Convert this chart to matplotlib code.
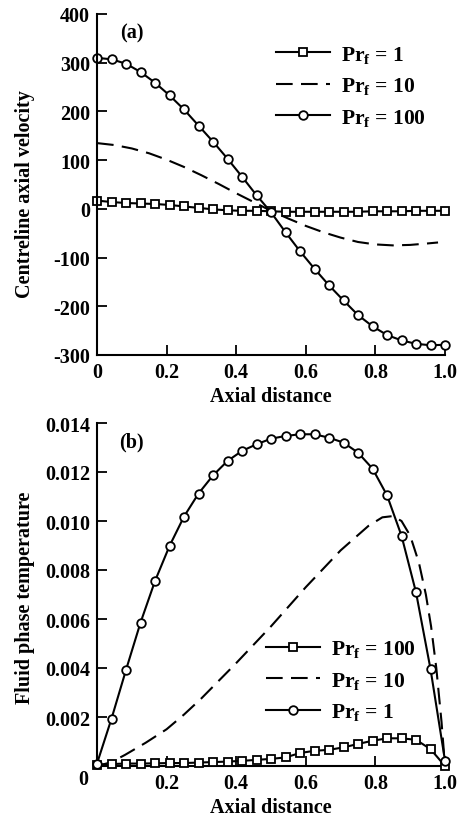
import numpy as np
import matplotlib
matplotlib.use("Agg")
import matplotlib.pyplot as plt

plt.rcParams['font.family'] = ['Liberation Serif', 'DejaVu Serif']
plt.rcParams['font.weight'] = 'bold'
plt.rcParams['axes.labelweight'] = 'bold'
plt.rcParams['axes.unicode_minus'] = False
plt.rcParams['mathtext.fontset'] = 'custom'
plt.rcParams['mathtext.rm'] = 'Liberation Serif:bold'
plt.rcParams['mathtext.it'] = 'Liberation Serif:bold'
plt.rcParams['mathtext.bf'] = 'Liberation Serif:bold'

# ---------------- data: panel (a) ----------------
a_x_markers = [k / 24 for k in range(25)]
a_pr1 = [17, 14, 12, 11, 10, 8, 5, 2, -1, -3, -4, -4, -5, -6, -6, -6,
         -6, -6, -6, -5, -5, -5, -4, -4, -4]
a_pr100 = [310, 307, 298, 281, 259, 233, 204, 171, 138, 103, 66, 28, -7,
           -48, -87, -123, -157, -188, -218, -241, -259, -270, -277, -280, -279]
a_pr10_x = [0, 0.05, 0.1, 0.15, 0.2, 0.25, 0.3, 0.35, 0.4, 0.45, 0.5, 0.55,
            0.6, 0.65, 0.7, 0.75, 0.8, 0.85, 0.9, 0.95, 0.98]
a_pr10 = [135, 131, 124, 114, 101, 86, 69, 51, 32, 14, -4, -20, -35, -48,
          -59, -68, -73, -75, -74, -71, -69]
a_xticks = [0, 0.2, 0.4, 0.6, 0.8, 1.0]
a_xticklabels = ['0', '0.2', '0.4', '0.6', '0.8', '1.0']
a_yticks = [-300, -200, -100, 0, 100, 200, 300, 400]
a_yticklabels = ['-300', '-200', '-100', '0', '100', '200', '300', '400']

# ---------------- data: panel (b) ----------------
b_x_markers = [k / 24 for k in range(25)]
b_pr1 = [0.0001, 0.00193, 0.00392, 0.00585, 0.00755, 0.00898, 0.01018, 0.01112,
         0.01186, 0.01245, 0.01286, 0.01313, 0.01336, 0.01347, 0.01354, 0.01354,
         0.01340, 0.01320, 0.01279, 0.01214, 0.01105, 0.0094, 0.00709, 0.00396,
         0.00022]
b_pr100 = [0.00005, 0.00008, 0.0001, 0.0001, 0.00011, 0.00012, 0.00012, 0.00014,
           0.00016, 0.00018, 0.00021, 0.00025, 0.00029, 0.00035, 0.00053, 0.00062,
           0.00066, 0.00076, 0.00090, 0.00103, 0.00113, 0.00113, 0.00107, 0.00069,
           0.0]
b_pr10_x = [0, 0.04, 0.08, 0.14, 0.2, 0.25, 0.3, 0.4, 0.5, 0.6, 0.7, 0.78, 0.82,
            0.85, 0.875, 0.9, 0.925, 0.945, 0.96, 0.975, 0.99, 1.0]
b_pr10 = [0, 0.00015, 0.00045, 0.00095, 0.0015, 0.0021, 0.00276, 0.0042, 0.0057,
          0.0073, 0.0088, 0.0098, 0.01015, 0.0102, 0.0100, 0.0094, 0.0083, 0.0070,
          0.0057, 0.0040, 0.0018, 0.0]
b_xticks = [0, 0.2, 0.4, 0.6, 0.8, 1.0]
b_xticklabels = ['', '0.2', '0.4', '0.6', '0.8', '1.0']
b_yticks = [0, 0.002, 0.004, 0.006, 0.008, 0.010, 0.012, 0.014]
b_yticklabels = ['', '0.002', '0.004', '0.006', '0.008', '0.010', '0.012', '0.014']

W, H = 461, 820
fig = plt.figure(figsize=(W / 100, H / 100), dpi=100)


def box(l, r, t, b):
    return [l / W, 1 - b / H, (r - l) / W, (b - t) / H]


axa = fig.add_axes(box(97, 445, 15, 356))
axb = fig.add_axes(box(97, 445, 424, 767))

lw = 1.5
mk = dict(markerfacecolor='white', markeredgecolor='black', markeredgewidth=1.3)
fs = 14.5
lfs = 14.5
gfs = 15.5
leg_kw = dict(frameon=False, fontsize=gfs, handlelength=2.5, handletextpad=0.5,
              labelspacing=0.48, numpoints=1, borderaxespad=0, borderpad=0,
              loc='upper left')

# panel (a)
axa.plot(a_x_markers, a_pr1, '-', color='black', lw=lw, marker='s', ms=5.5,
         label=r'Pr$_\mathregular{f}$ = 1', clip_on=False, **mk)
axa.plot(a_pr10_x, a_pr10, color='black', lw=lw, dashes=(8, 4),
         label=r'Pr$_\mathregular{f}$ = 10')
axa.plot(a_x_markers, a_pr100, '-', color='black', lw=lw, marker='o', ms=6.2,
         label=r'Pr$_\mathregular{f}$ = 100', clip_on=False, **mk)
axa.set_xlim(0, 1.0)
axa.set_ylim(-300, 400)
axa.set_xticks(a_xticks)
axa.set_xticklabels(a_xticklabels)
axa.set_yticks(a_yticks)
axa.set_yticklabels(a_yticklabels)
axa.set_xlabel('Axial distance', fontsize=lfs, labelpad=3)
axa.set_ylabel('Centreline axial velocity', fontsize=lfs)
axa.yaxis.set_label_coords(-0.178, 0.475)
axa.text(0.10, 0.947, '(a)', transform=axa.transAxes, fontsize=fs,
         ha='center', va='center')
axa.legend(bbox_to_anchor=(0.515, 0.912), **leg_kw)

# panel (b)
axb.plot(b_x_markers, b_pr100, '-', color='black', lw=lw, marker='s', ms=5.5,
         label=r'Pr$_\mathregular{f}$ = 100', clip_on=False, zorder=3, **mk)
axb.plot(b_pr10_x, b_pr10, color='black', lw=lw, dashes=(8, 4),
         label=r'Pr$_\mathregular{f}$ = 10')
axb.plot(b_x_markers, b_pr1, '-', color='black', lw=lw, marker='o', ms=6.2,
         label=r'Pr$_\mathregular{f}$ = 1', clip_on=False, zorder=4, **mk)
axb.set_xlim(0, 1.0)
axb.set_ylim(0, 0.014)
axb.set_xticks(b_xticks)
axb.set_xticklabels(b_xticklabels)
axb.set_yticks(b_yticks)
axb.set_yticklabels(b_yticklabels)
axb.set_xlabel('Axial distance', fontsize=lfs, labelpad=3)
axb.set_ylabel('Fluid phase temperature', fontsize=lfs)
axb.yaxis.set_label_coords(-0.178, 0.493)
axb.text(0.10, 0.945, '(b)', transform=axb.transAxes, fontsize=fs,
         ha='center', va='center')
axb.annotate('0', xy=(0, 0), xycoords='axes fraction', xytext=(-9, -13),
             textcoords='offset pixels', ha='right', va='center', fontsize=fs)
axb.legend(bbox_to_anchor=(0.487, 0.372), **leg_kw)

for ax in (axa, axb):
    ax.spines['top'].set_visible(False)
    ax.spines['right'].set_visible(False)
    ax.spines['left'].set_linewidth(1.5)
    ax.spines['bottom'].set_linewidth(1.5)
    ax.tick_params(direction='in', length=7.5, width=1.3, labelsize=fs, pad=5)

fig.savefig('out.png', dpi=100)
